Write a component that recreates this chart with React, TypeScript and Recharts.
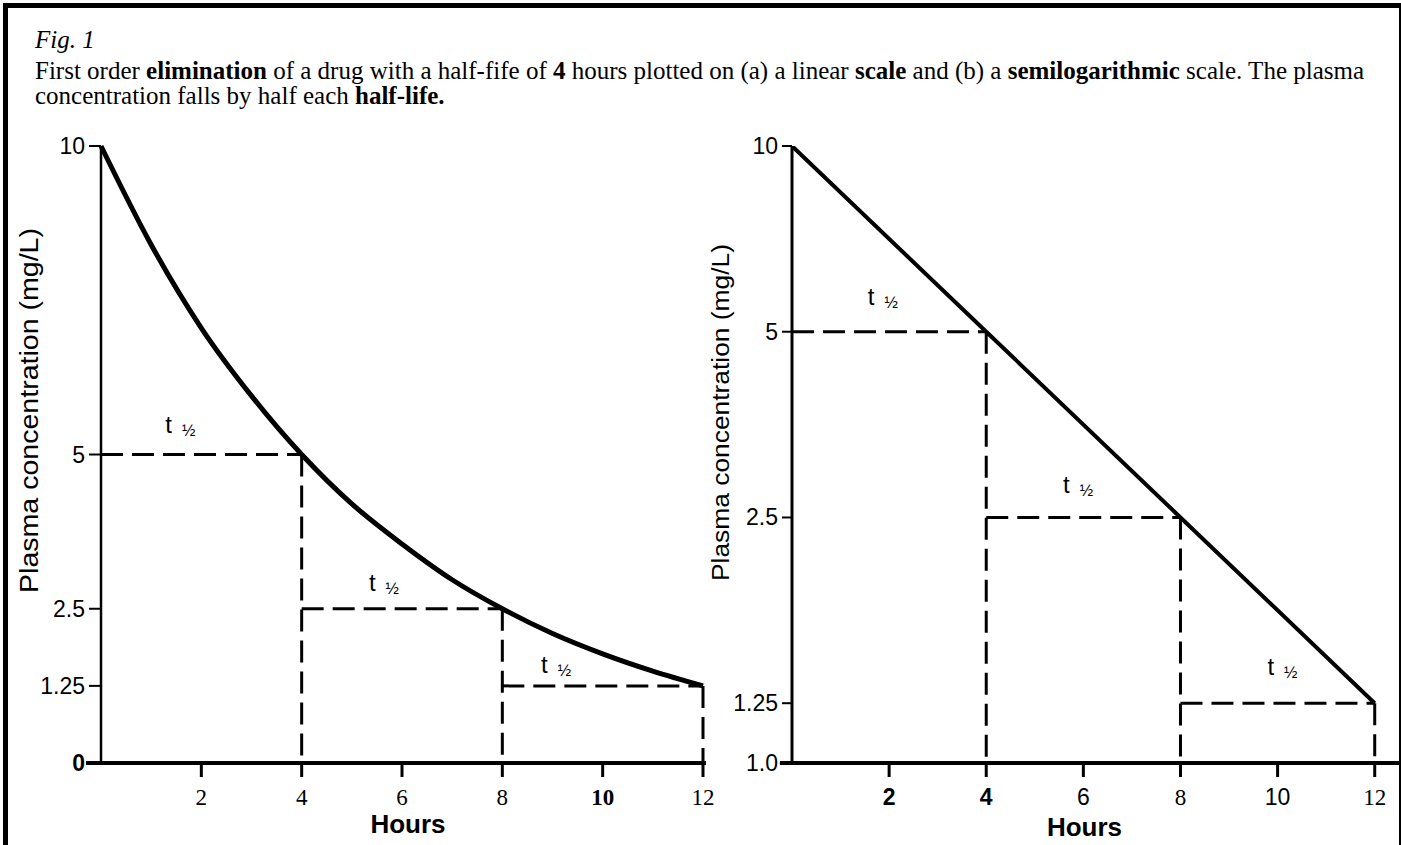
import React from "react";
import { LineChart, Line, XAxis, YAxis, ReferenceLine, ReferenceDot, Label } from "recharts";

// concentrations (mg/L), hourly for the curved one
const hours = [0, 1, 2, 3, 4, 5, 6, 7, 8, 9, 10, 11, 12];
const linearConc = [10, 8.4, 7.05, 5.95, 5, 4.2, 3.55, 2.97, 2.5, 2.1, 1.77, 1.49, 1.25];

// the half-life steps, used by both panels
const halfLifeHours = [0, 4, 8, 12];
const halfLifeConc = [10, 5, 2.5, 1.25];

const hourTicks = [2, 4, 6, 8, 10, 12];
const linearTicks = [0, 1.25, 2.5, 5, 10];
const linearTickLabels = ["0", "1.25", "2.5", "5", "10"];
const logTicks = [1, 1.25, 2.5, 5, 10];
const logTickLabels = ["1.0", "1.25", "2.5", "5", "10"];

const SANS = "'Liberation Sans', Arial, Helvetica, sans-serif";
const SERIF = "'Liberation Serif', 'Times New Roman', serif";
const NARROW = "'Liberation Sans Narrow', 'Liberation Sans', Arial, sans-serif";

// where the "t ½" notes start, in data units of each panel
const leftNotes = [
  { x: 1.28, y: 5.48 },
  { x: 5.34, y: 2.92 },
  { x: 8.77, y: 1.59 },
];
const rightNotes = [
  { x: 1.56, y: 5.69 },
  { x: 5.58, y: 2.82 },
  { x: 9.79, y: 1.43 },
];

// the scan mixes fonts on the hour labels
const leftHourFont: Record<number, { family: string; weight: string }> = {
  10: { family: SERIF, weight: "bold" },
};
const rightHourFont: Record<number, { family: string; weight: string }> = {
  2: { family: SANS, weight: "bold" },
  4: { family: SANS, weight: "bold" },
  6: { family: SANS, weight: "normal" },
  8: { family: SERIF, weight: "normal" },
  10: { family: SANS, weight: "normal" },
  12: { family: SERIF, weight: "normal" },
};

const linearData = hours.map((h, i) => ({ h, c: linearConc[i] }));
const logData = halfLifeHours.map((h, i) => ({ h, c: halfLifeConc[i] }));

const steps = (floor: number) =>
  halfLifeHours.slice(1).map((h, i) => ({
    across: [
      { x: halfLifeHours[i], y: halfLifeConc[i + 1] },
      { x: h, y: halfLifeConc[i + 1] },
    ],
    down: [
      { x: h, y: halfLifeConc[i + 1] },
      { x: h, y: floor },
    ],
  }));

const makeHourTick = (fonts: Record<number, { family: string; weight: string }>, defFamily: string) =>
  (props: any) => {
    const { x, y, payload } = props;
    const f = fonts[payload.value] || { family: defFamily, weight: "normal" };
    return (
      <text x={x} y={y + 26} textAnchor="middle" fontSize={23} fontFamily={f.family} fontWeight={f.weight} fill="#000">
        {payload.value}
      </text>
    );
  };

const makeConcTick = (vals: number[], labels: string[]) => (props: any) => {
  const { x, y, payload } = props;
  const label = labels[vals.indexOf(payload.value)];
  return (
    <text x={x - 2} y={y + 8} textAnchor="end" fontSize={23} fontFamily={SANS} fontWeight={label === "0" ? "bold" : "normal"} fill="#000">
      {label}
    </text>
  );
};

const HalfNote = (props: any) => {
  const { viewBox } = props;
  const cx = viewBox.cx ?? viewBox.x;
  const cy = viewBox.cy ?? viewBox.y;
  return (
    <text x={cx} y={cy + 8} fontFamily={SANS} fontSize={24} fill="#000">
      t
      <tspan dx={10} dy={3} fontSize={16}>½</tspan>
    </text>
  );
};

const yTitle = (dy: number, dx: number, size: number, len: number) => (props: any) => {
  const { viewBox } = props;
  const cx = viewBox.x + dx;
  const cy = viewBox.y + viewBox.height / 2 + dy;
  return (
    <text
      x={cx}
      y={cy}
      transform={`rotate(-90 ${cx} ${cy})`}
      textAnchor="middle"
      dominantBaseline="middle"
      fontFamily={SANS}
      fontSize={size}
      textLength={len}
      lengthAdjust="spacingAndGlyphs"
      fill="#000"
    >
      Plasma concentration (mg/L)
    </text>
  );
};

const xTitle = (dx: number, dy: number) => (props: any) => {
  const { viewBox } = props;
  return (
    <text x={viewBox.x + viewBox.width / 2 + dx} y={viewBox.y + dy} textAnchor="middle" fontFamily={NARROW} fontWeight="bold" fontSize={26} fill="#000">
      Hours
    </text>
  );
};

const dashed = { stroke: "#000", strokeWidth: 3, strokeDasharray: "22 9" };
const axisStub = { stroke: "#000", strokeWidth: 4, ifOverflow: "visible" as const };

const LinearPanel = () => (
  <LineChart width={720} height={725} data={linearData} margin={{ top: 26, right: 17, bottom: 0, left: 0 }}>
    <XAxis
      dataKey="h"
      type="number"
      domain={[0, 12]}
      ticks={hourTicks}
      interval={0}
      axisLine={{ stroke: "#000", strokeWidth: 4 }}
      tickLine={{ stroke: "#000", strokeWidth: 3 }}
      tickSize={14}
      tick={makeHourTick(leftHourFont, SERIF)}
      height={82}
    >
      <Label content={xTitle(6, 70)} />
    </XAxis>
    <YAxis
      type="number"
      domain={[0, 10]}
      ticks={linearTicks}
      interval={0}
      width={101}
      axisLine={{ stroke: "#000", strokeWidth: 2.5 }}
      tickLine={{ stroke: "#000", strokeWidth: 2 }}
      tickSize={12}
      tick={makeConcTick(linearTicks, linearTickLabels)}
    >
      <Label content={yTitle(-44, 31, 25, 365)} />
    </YAxis>
    {/* the printed baseline runs a little past both ends of the plot */}
    <ReferenceLine segment={[{ x: -0.3, y: 0 }, { x: 12.06, y: 0 }]} {...axisStub} />
    {steps(0).map((s, i) => (
      <React.Fragment key={i}>
        <ReferenceLine segment={s.across} {...dashed} />
        <ReferenceLine segment={s.down} {...dashed} />
      </React.Fragment>
    ))}
    <Line dataKey="c" type="monotone" stroke="#000" strokeWidth={5} dot={false} isAnimationActive={false} />
    {leftNotes.map((n, i) => (
      <ReferenceDot key={i} x={n.x} y={n.y} r={0} fill="none" stroke="none" label={<HalfNote />} />
    ))}
  </LineChart>
);

const LogPanel = () => (
  <LineChart width={701} height={725} data={logData} margin={{ top: 26, right: 2, bottom: 0, left: 0 }}>
    <XAxis
      dataKey="h"
      type="number"
      domain={[0, 12.5]}
      ticks={hourTicks}
      interval={0}
      axisLine={{ stroke: "#000", strokeWidth: 4 }}
      tickLine={{ stroke: "#000", strokeWidth: 3 }}
      tickSize={14}
      tick={makeHourTick(rightHourFont, SANS)}
      height={82}
    >
      <Label content={xTitle(-11, 73)} />
    </XAxis>
    <YAxis
      type="number"
      scale="log"
      domain={[1, 10]}
      allowDataOverflow
      ticks={logTicks}
      interval={0}
      width={92}
      axisLine={{ stroke: "#000", strokeWidth: 3 }}
      tickLine={{ stroke: "#000", strokeWidth: 2 }}
      tickSize={10}
      tick={makeConcTick(logTicks, logTickLabels)}
    >
      <Label content={yTitle(-42, 23, 23, 337)} />
    </YAxis>
    <ReferenceLine segment={[{ x: -0.25, y: 1 }, { x: 0, y: 1 }]} {...axisStub} />
    {steps(1).map((s, i) => (
      <React.Fragment key={i}>
        <ReferenceLine segment={s.across} {...dashed} />
        <ReferenceLine segment={s.down} {...dashed} />
      </React.Fragment>
    ))}
    <Line dataKey="c" type="linear" stroke="#000" strokeWidth={4} dot={false} isAnimationActive={false} />
    {rightNotes.map((n, i) => (
      <ReferenceDot key={i} x={n.x} y={n.y} r={0} fill="none" stroke="none" label={<HalfNote />} />
    ))}
  </LineChart>
);

export default function App() {
  return (
    <div style={{ position: "absolute", left: 0, top: 0, width: 1401, height: 845, background: "#fff", overflow: "hidden" }}>
      <div
        style={{
          position: "absolute",
          left: 3,
          top: 3,
          width: 1391,
          height: 860,
          borderTop: "5px solid #000",
          borderLeft: "5px solid #000",
          borderRight: "3px solid #000",
        }}
      />
      <div style={{ position: "absolute", left: 35, top: 25, fontFamily: SERIF, fontSize: 25, color: "#000", whiteSpace: "nowrap" }}>
        <div style={{ fontStyle: "italic", lineHeight: "30px" }}>Fig. 1</div>
        <div style={{ marginTop: 3, lineHeight: "25px" }}>
          First order <b>elimination</b> of a drug with a half-fife of <b>4</b> hours plotted on (a) a linear <b>scale</b> and (b) a <b>semilogarithmic</b> scale. The plasma
          <br />
          concentration falls by half each <b>half-life.</b>
        </div>
      </div>
      <div style={{ position: "absolute", left: 0, top: 120 }}>
        <LinearPanel />
      </div>
      <div style={{ position: "absolute", left: 700, top: 120 }}>
        <LogPanel />
      </div>
    </div>
  );
}
